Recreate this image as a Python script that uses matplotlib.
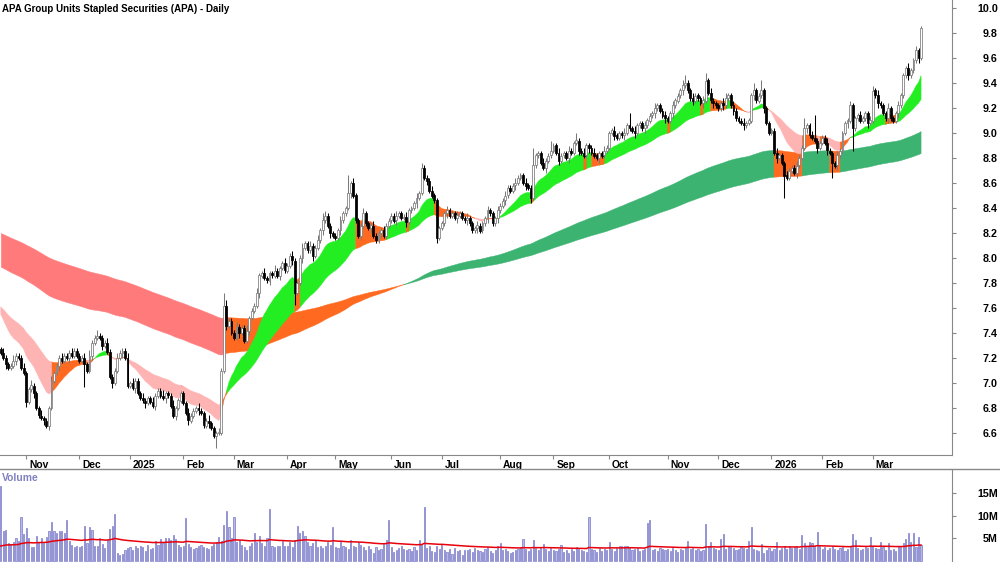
import numpy as np
import pandas as pd
import matplotlib

matplotlib.use("Agg")
import matplotlib.pyplot as plt
from matplotlib import font_manager
from matplotlib.transforms import ScaledTranslation
from matplotlib.lines import Line2D

TITLE = "APA Group Units Stapled Securities (APA) - Daily"

# ASX trading days shown on the chart
FIRST_DAY, LAST_DAY = "2024-10-18", "2026-03-27"
HOLIDAYS = ["2024-12-25", "2024-12-26", "2025-01-01", "2025-01-27", "2025-04-18",
            "2025-04-21", "2025-04-25", "2025-06-09", "2025-12-25", "2025-12-26",
            "2026-01-01", "2026-01-26"]

# daily closes, one row per month
CLOSE = [
    7.24, 7.20, 7.15, 7.12, 7.14, 7.18, 7.22, 7.20, 7.12, 7.08,
    6.85, 6.95, 6.98, 6.92, 6.80, 6.74, 6.72, 6.70, 6.66, 6.80, 7.02, 7.08, 7.14, 7.20, 7.18, 7.22, 7.20, 7.24, 7.22, 7.26, 7.22,
    7.18, 7.20, 7.15, 7.10, 7.22, 7.32, 7.36, 7.38, 7.36, 7.30, 7.32, 7.25, 7.05, 7.00, 7.10, 7.20, 7.24, 7.26, 7.20, 6.98,
    7.00, 6.96, 7.02, 6.92, 6.88, 6.86, 6.84, 6.88, 6.85, 6.82, 6.90, 6.94, 6.90, 6.88, 6.92, 6.90, 6.82, 6.74, 6.80, 6.86, 6.92,
    6.84, 6.76, 6.70, 6.74, 6.78, 6.80, 6.78, 6.76, 6.66, 6.70, 6.68, 6.64, 6.58, 6.60, 6.60, 7.10, 7.62, 7.46, 7.50, 7.40,
    7.36, 7.45, 7.40, 7.44, 7.34, 7.42, 7.52, 7.58, 7.62, 7.72, 7.86, 7.88, 7.84, 7.82, 7.88, 7.86, 7.90, 7.86, 7.92, 7.96, 7.90,
    7.94, 8.02, 7.98, 7.72, 7.80, 8.00, 8.08, 8.12, 8.06, 8.10, 8.02, 8.08, 8.14, 8.22, 8.30, 8.34, 8.26, 8.20, 8.18,
    8.16, 8.22, 8.30, 8.36, 8.40, 8.52, 8.60, 8.50, 8.30, 8.18, 8.26, 8.36, 8.28, 8.24, 8.26, 8.18, 8.14, 8.20, 8.22, 8.18, 8.26, 8.30,
    8.34, 8.30, 8.34, 8.36, 8.32, 8.33, 8.29, 8.38, 8.40, 8.44, 8.48, 8.52, 8.72, 8.64, 8.62, 8.54, 8.50, 8.46, 8.16, 8.24,
    8.28, 8.36, 8.38, 8.34, 8.36, 8.32, 8.34, 8.36, 8.32, 8.30, 8.32, 8.28, 8.22, 8.24, 8.26, 8.22, 8.28, 8.32, 8.38, 8.36, 8.28, 8.32, 8.38,
    8.42, 8.46, 8.50, 8.56, 8.54, 8.58, 8.60, 8.64, 8.66, 8.60, 8.58, 8.56, 8.48, 8.74, 8.82, 8.84, 8.76, 8.72, 8.78, 8.82, 8.86,
    8.90, 8.84, 8.78, 8.82, 8.84, 8.80, 8.86, 8.84, 8.92, 8.94, 8.86, 8.84, 8.82, 8.90, 8.88, 8.84, 8.82, 8.80, 8.84, 8.82, 8.86, 8.88,
    9.00, 9.02, 8.98, 8.96, 9.00, 8.98, 9.00, 9.06, 9.04, 9.02, 9.00, 9.06, 9.08, 9.04, 9.06, 9.10, 9.14, 9.16, 9.20, 9.22, 9.18, 9.14, 9.12,
    9.10, 9.16, 9.22, 9.26, 9.30, 9.34, 9.38, 9.40, 9.34, 9.28, 9.26, 9.30, 9.28, 9.24, 9.26, 9.42, 9.32, 9.26, 9.24, 9.22,
    9.20, 9.24, 9.22, 9.28, 9.30, 9.22, 9.18, 9.12, 9.10, 9.08, 9.06, 9.08, 9.10, 9.30, 9.34, 9.26, 9.30, 9.34, 9.20, 9.08, 9.00,
    9.02, 8.84, 8.80, 8.82, 8.76, 8.66, 8.64, 8.70, 8.72, 8.68, 8.74, 8.80, 8.88, 9.04, 9.06, 8.98, 8.96, 8.94, 8.88, 8.92,
    8.96, 8.92, 8.86, 8.84, 8.76, 8.74, 8.82, 8.86, 9.00, 9.08, 9.10, 9.22, 9.04, 9.12, 9.14, 9.10, 9.12, 9.16, 9.08, 9.10,
    9.34, 9.30, 9.24, 9.22, 9.16, 9.12, 9.20, 9.12, 9.10, 9.16, 9.22, 9.30, 9.46, 9.52, 9.46, 9.50, 9.58, 9.66, 9.60, 9.84,
]
FIRST_OPEN = 7.27

# wick lengths above / below the body, in 2-cent steps, one group per month
UP_WICK = """12111 21112 | 11211 12111 21112 11121 1 | 11212 11211 12111 21112 |
12111 21112 11121 11211 1 | 11211 12111 21112 15211 | 12111 21112 11211 12111 2 |
11211 12112 11213 2111 | 11211 71211 12111 21112 11 | 11211 12111 21211 12111 |
11211 12111 21112 11121 112 | 11211 12111 21171 11211 4 | 11211 12113 11211 12111 21 |
11211 12151 21112 11121 112 | 11211 12311 21112 31211 | 11221 12111 21113 11411 1 |
11211 12111 21141 12911 | 11211 12111 12111 21112 | 21211 12111 21112 11211"""
DN_WICK = """11211 12111 | 21121 11212 11121 11211 1 | 11911 21112 11121 11211 |
11211 12111 21112 11121 1 | 11211 12111 21151 11211 | 11211 12111 21112 11121 1 |
11251 12111 21112 1121 | 11211 12111 21112 11121 11 | 11211 12111 21112 11121 |
11211 12111 21112 11121 112 | 11211 12111 21211 11121 1 | 11211 12111 21112 11121 11 |
11211 12111 21112 11121 112 | 11211 12111 21112 11121 | 11211 12111 21112 11121 1 |
11211 91111 21112 11121 | 11216 12111 21911 11121 | 11211 12111 21112 11121"""

# daily volume, millions
VOLUME = [
    16.5, 6.5, 6.8, 4.0, 3.8, 4.1, 5.0, 4.5, 9.8, 6.0,
    7.2, 5.0, 3.0, 3.1, 5.6, 4.2, 5.0, 4.0, 5.2, 6.5, 8.6, 6.5, 6.2, 6.5, 6.5, 6.2, 9.0, 4.5, 3.5, 3.0, 3.2,
    3.0, 3.2, 7.7, 4.0, 7.6, 6.8, 3.4, 3.2, 5.0, 3.8, 2.8, 4.6, 7.0, 7.8, 10.3, 1.7, 1.4, 1.6, 2.4, 2.8,
    3.0, 2.5, 3.2, 2.8, 3.4, 3.0, 2.2, 3.6, 2.6, 2.9, 4.4, 3.6, 4.8, 4.0, 5.1, 5.0, 4.6, 5.8, 4.8, 3.5, 3.0,
    3.2, 9.4, 3.8, 3.0, 2.6, 2.8, 3.2, 3.5, 3.0, 2.8, 2.6, 3.2, 3.8, 4.2, 5.2, 4.4, 8.0, 11.0, 7.4, 5.0,
    9.6, 4.2, 4.6, 3.6, 3.0, 2.5, 3.4, 4.0, 6.2, 4.2, 5.4, 4.0, 3.4, 5.0, 11.4, 3.2, 3.0, 3.2, 3.4, 4.4, 3.2,
    3.4, 4.2, 3.0, 4.6, 7.8, 6.2, 6.6, 5.6, 4.2, 3.4, 4.0, 4.6, 3.0, 3.4, 2.8, 3.2, 4.2, 3.6, 7.4,
    3.0, 2.8, 4.4, 3.2, 3.0, 2.6, 4.6, 3.4, 3.0, 4.2, 3.6, 3.0, 2.5, 3.2, 2.6, 1.8, 3.0, 2.4, 2.6, 3.8, 4.6, 9.0,
    3.0, 2.0, 2.5, 2.8, 3.2, 2.6, 2.4, 2.6, 2.2, 3.0, 2.4, 4.6, 3.6, 11.8, 2.8, 3.4, 2.2, 2.0, 3.4, 2.6,
    3.6, 2.4, 2.0, 2.6, 1.6, 2.8, 2.2, 2.4, 1.4, 2.5, 2.4, 2.6, 2.0, 2.8, 2.4, 2.2, 2.0, 2.6, 3.0, 2.2, 1.8, 2.4, 3.2,
    4.0, 2.4, 2.6, 2.2, 1.8, 2.0, 2.4, 2.6, 3.0, 4.8, 2.6, 2.2, 2.6, 4.6, 2.8, 2.4, 3.0, 3.8, 2.6, 2.2, 2.8,
    2.4, 2.2, 2.6, 3.6, 2.0, 2.4, 1.8, 2.6, 2.2, 3.0, 2.6, 2.4, 2.2, 2.0, 9.7, 2.6, 2.4, 2.0, 2.8, 2.2, 2.6, 2.4,
    4.1, 2.6, 2.2, 2.8, 3.4, 3.4, 3.2, 3.4, 3.0, 2.4, 2.6, 2.8, 2.2, 2.4, 2.6, 8.3, 9.0, 2.4, 2.6, 2.2, 2.8, 2.6, 2.4,
    2.6, 2.2, 2.8, 2.4, 2.0, 2.6, 2.4, 3.0, 4.5, 2.6, 2.8, 2.4, 2.6, 2.2, 2.4, 8.1, 3.2, 4.2, 2.8, 2.6,
    2.4, 4.8, 5.9, 2.6, 3.2, 3.0, 2.8, 2.4, 2.6, 3.0, 2.8, 2.6, 4.4, 7.5, 2.6, 2.4, 2.2, 3.8, 1.8, 2.4, 2.8,
    2.2, 2.6, 4.2, 2.4, 2.8, 3.4, 2.6, 3.4, 2.8, 3.0, 3.2, 2.6, 5.7, 4.0, 3.4, 4.2, 4.0, 3.4, 6.4, 3.2,
    2.6, 3.0, 2.4, 2.8, 3.2, 2.6, 2.4, 2.8, 3.0, 2.2, 2.6, 3.0, 5.9, 4.6, 2.8, 2.4, 2.6, 3.0, 2.8, 5.3,
    3.2, 2.8, 2.6, 4.2, 3.0, 2.4, 4.0, 2.4, 2.6, 2.2, 3.2, 3.0, 3.9, 4.9, 6.2, 4.2, 6.2, 3.0, 5.3, 3.5,
]

# moving-average ribbons: value of each average at the first bar, and its span
SHORT_START = (7.55, 7.61)
SHORT_SPANS = (15, 38)
LONG_START = (7.93, 8.20)
LONG_SPANS = (140, 220)
VOL_MA_START = 3.3
VOL_MA_SPAN = 60

SHORT_COLORS = {"up": "#22EE22", "mixed": "#FF6A20", "down": "#FFB4B4"}
LONG_COLORS = {"up": "#3CB371", "mixed": "#FF6A20", "down": "#FF7B7B"}


def digits(s):
    return np.array([int(ch) for ch in s if ch.isdigit()], dtype=float)


def ema(values, start, span):
    s = pd.Series(np.r_[start, values[1:]], dtype=float)
    return s.ewm(span=span, adjust=False).mean().to_numpy()


def draw_ribbon(ax, x, close, fast, slow, colors):
    state = np.where((fast > slow) & (close > fast), "up",
                     np.where((fast < slow) & (close < fast), "down", "mixed"))
    for key, col in colors.items():
        m = state == key
        m = m | np.r_[False, m[:-1]]
        ax.fill_between(x, fast, slow, where=m, color=col, lw=0.3, zorder=1)


names = {f.name for f in font_manager.fontManager.ttflist}
NARROW = "Liberation Sans Narrow" if "Liberation Sans Narrow" in names else "Liberation Sans"
FS = 8.8 if NARROW.endswith("Narrow") else 7.4
plt.rcParams["font.family"] = [NARROW, "DejaVu Sans"]
plt.rcParams["font.weight"] = "bold"
AXIS_FONT = dict(family="Liberation Sans", weight="bold", size=7.7)

dates = pd.bdate_range(FIRST_DAY, LAST_DAY, freq="C", holidays=HOLIDAYS)
close = np.array(CLOSE)
up = digits(UP_WICK) * 0.02
dn = digits(DN_WICK) * 0.02
vol = np.array(VOLUME)
lens = [len(dates), len(close), len(up), len(dn), len(vol)]
if len(set(lens)) != 1:
    raise SystemExit(f"length mismatch: {lens}")

x = np.arange(len(close))
opn = np.r_[FIRST_OPEN, close[:-1]]
high = np.maximum(opn, close) + up
low = np.minimum(opn, close) - dn

fig = plt.figure(figsize=(10, 5.62), dpi=100)
ax = fig.add_axes([0, 1 - 455 / 562, 0.952, 455 / 562])
axv = fig.add_axes([0, 0, 0.952, 93 / 562])

# ribbons
draw_ribbon(ax, x, close, ema(close, LONG_START[0], LONG_SPANS[0]),
            ema(close, LONG_START[1], LONG_SPANS[1]), LONG_COLORS)
draw_ribbon(ax, x, close, ema(close, SHORT_START[0], SHORT_SPANS[0]),
            ema(close, SHORT_START[1], SHORT_SPANS[1]), SHORT_COLORS)

# candles
rising = close >= opn
edge = np.where(rising, "#7A7A7A", "#000000")
face = np.where(rising, "#FFFFFF", "#000000")
ax.vlines(x, low, high, colors=edge, lw=0.75, zorder=2)
body = np.where(np.abs(close - opn) < 0.005, 0.005, close - opn)
ax.bar(x, body, bottom=opn, width=0.75, color=face, edgecolor=edge, lw=0.55, zorder=3)

ax.set_xlim(-0.3, 375.2)
ax.set_ylim(6.424, 10.064)
for side in ("left", "top"):
    ax.spines[side].set_visible(False)
for side in ("right", "bottom"):
    ax.spines[side].set_color("#888888")
ax.yaxis.tick_right()
ticks = np.round(np.arange(6.6, 10.01, 0.2), 1)
ax.set_yticks(ticks)
ax.set_yticklabels([f"{v:.1f}" for v in ticks], fontdict=AXIS_FONT)
ax.tick_params(axis="y", direction="out", length=3, pad=30, color="#888888")
for lab in ax.get_yticklabels():
    lab.set_horizontalalignment("right")

starts = [i for i in range(1, len(dates)) if dates[i].month != dates[i - 1].month]
labels = [str(dates[i].year) if dates[i].month == 1 else dates[i].strftime("%b")
          for i in starts]
ax.set_xticks(starts)
ax.set_xticklabels(labels)
ax.tick_params(axis="x", direction="out", length=3, pad=0.5, color="#888888",
               labelsize=FS)
shift = ScaledTranslation(2 / 72, 0, fig.dpi_scale_trans)
for lab in ax.get_xticklabels():
    lab.set_horizontalalignment("left")
    lab.set_transform(lab.get_transform() + shift)

# volume panel
axv.bar(x, vol, width=0.45, color="#B8B8E6", edgecolor="#7878C8", lw=0.5)
axv.plot(x, ema(vol, VOL_MA_START, VOL_MA_SPAN), color="#E8000B", lw=1.1)
axv.set_xlim(-0.3, 375.2)
axv.set_ylim(-0.24, 20.3)
for side in ("left", "top", "bottom"):
    axv.spines[side].set_visible(False)
axv.spines["right"].set_color("#888888")
axv.set_xticks([])
axv.yaxis.tick_right()
axv.set_yticks([5, 10, 15])
axv.set_yticklabels(["5M", "10M", "15M"], fontdict=AXIS_FONT)
axv.tick_params(axis="y", direction="out", length=3, pad=30, color="#888888")
for lab in axv.get_yticklabels():
    lab.set_horizontalalignment("right")
axv.text(0.002, 0.9, "Volume", transform=axv.transAxes, color="#8080C0",
         fontsize=FS, fontweight="bold", ha="left", va="center")

fig.add_artist(Line2D([0, 1], [1 - 469 / 562] * 2, color="#888888", lw=1))
fig.text(0.002, 1 - 9 / 562, TITLE, ha="left", va="center", fontsize=FS - 0.35,
         fontweight="bold")

fig.savefig("out.png", dpi=100)
